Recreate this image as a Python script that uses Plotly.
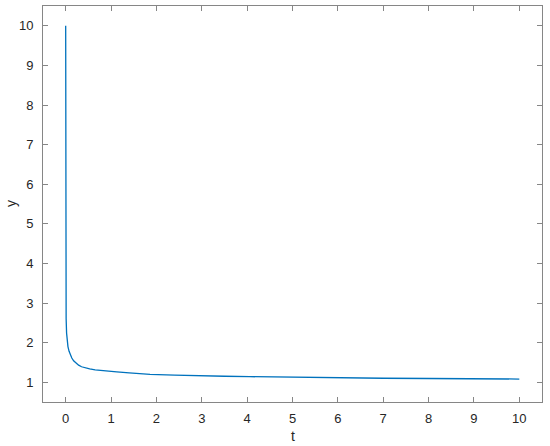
import plotly.graph_objects as go

# Values
t_vals = [0, 0.001, 0.004, 0.01, 0.02, 0.035, 0.05, 0.075, 0.1, 0.135, 0.175,
          0.23, 0.285, 0.35, 0.43, 0.53, 0.65, 0.8, 0.95, 1.125, 1.4, 1.86,
          2.4, 2.96, 3.5, 4.06, 5.15, 6.0, 7.0, 8.0, 9.0, 10.0]
y_vals = [10.0, 4.0, 3.1, 2.6, 2.24, 2.03, 1.90, 1.78, 1.69, 1.61, 1.54,
          1.48, 1.43, 1.39, 1.36, 1.335, 1.31, 1.29, 1.275, 1.26, 1.235, 1.20,
          1.18, 1.16, 1.15, 1.14, 1.12, 1.11, 1.10, 1.093, 1.087, 1.08]

x_ticks = list(range(0, 11))
y_ticks = list(range(1, 11))
x_title = "t"
y_title = "y"

FONT = "Liberation Sans, Arial, sans-serif"
TXT = "#262626"

fig = go.Figure()
fig.add_trace(go.Scatter(x=t_vals, y=y_vals, mode="lines",
                         line=dict(color="#0072BD", width=1.3),
                         showlegend=False, hoverinfo="skip"))

axis_common = dict(
    showgrid=False, zeroline=False, showline=True, mirror="ticks",
    linecolor="#868686", linewidth=1, ticks="inside", ticklen=5,
    tickcolor="#868686", tickwidth=1, automargin=False,
    tickfont=dict(family=FONT, size=13, color=TXT),
)

fig.update_xaxes(range=[-0.5, 10.5], tickvals=x_ticks, ticktext=[str(v) for v in x_ticks],
                 ticklabelstandoff=4, **axis_common)
fig.update_yaxes(range=[0.5, 10.5], tickvals=y_ticks, ticktext=[str(v) for v in y_ticks],
                 ticklabelstandoff=6, **axis_common)

fig.add_annotation(text=x_title, xref="paper", yref="paper", x=0.5, y=0,
                   xanchor="center", yanchor="middle", yshift=-34, showarrow=False,
                   font=dict(family=FONT, size=14, color=TXT))
fig.add_annotation(text=y_title, xref="paper", yref="paper", x=0, y=0.5,
                   xanchor="center", yanchor="middle", xshift=-32, textangle=-90,
                   showarrow=False, font=dict(family=FONT, size=14, color=TXT))

fig.update_layout(width=550, height=446,
                  margin=dict(l=43, r=8, t=6, b=44),
                  paper_bgcolor="white", plot_bgcolor="white")

fig.write_html("out.html", config={"displayModeBar": False},
               post_script="document.body.style.margin='0';")
